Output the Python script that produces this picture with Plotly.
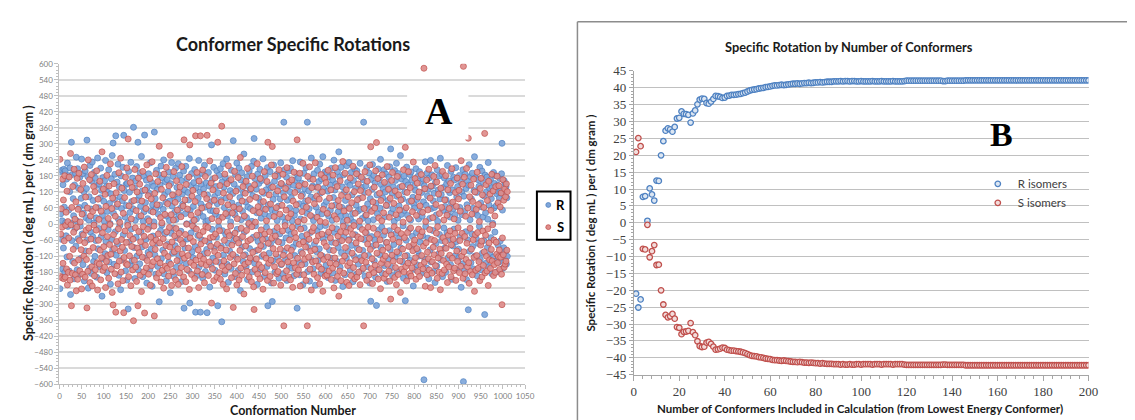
import plotly.graph_objects as go

W, H = 1135, 420

# ---------------- Panel A data: specific rotation of each conformer (R isomer) ----------------
# one row = 10 consecutive conformers (row i holds conformers 10*i+1 .. 10*i+10)
r_rotation = [
    -242, 196, 38, -57, 201, 12, -168, 147, -90, 205,
    63, -181, 199, 5, -44, 168, -123, 228, -9, 181,
    52, -176, 121, 210, -264, 3, 306, -62, 185, -140,
    95, 31, -205, 146, -18, 190, -83, 250, 12, -171,
    207, -55, 134, -190, 62, 175, -8, -129, 96, 243,
    -37, 188, -152, 41, 120, -213, 70, 199, -101, 23,
    133, 314, -60, 177, -240, 15, 102, -166, 219, -30,
    56, -185, 160, 232, -47, 88, -140, 4, 194, -121,
    171, -62, 23, -199, 145, 247, -93, 61, -17, 150,
    -160, 98, 209, -48, 126, -270, 33, 174, -131, 85,
    11, 162, -111, 238, -66, 140, -182, 47, 118, -21,
    203, -142, 77, 2, -225, 113, 169, -58, 256, -97,
    303, 40, -151, 92, 186, -29, 330, -117, 65, 157,
    -75, 224, 18, -192, 139, -6, 101, -246, 180, 58,
    -134, 87, 212, -40, 332, 125, -99, 26, -175, 148,
    69, -210, 152, 5, -318, 197, -68, 119, 43, -155,
    231, -19, 84, -137, 172, 57, 362, -88, 136, -204,
    14, 161, -50, 215, -120, 90, 306, -172, 28, 107,
    -149, 192, 66, -31, 253, -86, 124, -197, 10, 179,
    46, 333, -127, 80, -58, 164, -221, 137, 20, -106,
    188, -12, 115, -170, 229, 49, -94, 156, -233, 72,
    -45, 141, 8, 344, -115, 95, -188, 60, 201, -72,
    130, -159, 37, 184, -291, 71, 146, -24, 217, -130,
    -4, 173, -98, 55, 240, -187, 109, -36, 158, 81,
    -212, 29, 166, -76, 122, 195, -143, 13, 86, -257,
    151, -35, 230, 67, -109, 178, -15, -196, 104, 44,
    -81, 209, 17, -162, 137, -52, 93, 226, -118, 35,
    183, -139, 59, -27, 163, -215, 112, 74, -67, 198,
    -315, 128, -90, 39, 216, -148, 1, 170, -56, 118,
    90, -176, 245, -296, 52, 144, -33, 189, -104, 7,
    -126, 66, 155, -14, 204, -84, -330, 135, 19, -193,
    176, -43, 97, 238, -161, 42, 120, -330, 75, 148,
    -60, 189, -202, 28, 131, -111, 220, 63, -178, 9,
    154, -95, -332, 108, 13, 193, -69, 142, -236, 51,
    83, -153, 296, -20, 167, -128, 48, 212, -89, 103,
    -173, 37, 140, -49, 199, 76, -306, 117, -11, 182,
    25, -144, 207, 91, -83, -366, 158, -25, 226, -116,
    138, 61, -187, 174, -39, 97, 243, -151, 30, -72,
    -218, 160, 44, -102, 125, 8, -166, 201, 79, -41,
    114, 312, -64, 149, -197, 34, 185, -123, 56, 228,
    -20, 132, -174, 71, 209, -57, 99, -249, 165, 16,
    192, -86, 47, -140, 118, 262, -30, 151, -115, 82,
    -160, 24, 177, -208, 64, 143, -2, 199, -92, 127,
    58, -132, 216, 10, -179, 106, -50, 235, 320, -147,
    170, -7, -100, 131, 42, -226, 187, -65, 96, 152,
    -43, 205, -170, 81, 22, 163, -121, 58, 244, -84,
    115, -196, 37, 182, -55, 128, -12, -159, 211, -306,
    72, 147, -109, 29, 196, -75, 135, -221, 53, -290,
    -138, 92, 221, -28, 160, -180, 45, 112, -61, 186,
    13, -124, 178, 67, -203, 140, -37, 94, 229, -152,
    150, -70, 26, -186, 117, 381, -102, 203, 6, -133,
    -52, 175, -211, 89, 142, -24, 198, -157, 60, 121,
    209, -38, 98, -165, 12, 237, -86, 145, -194, 33,
    -118, 164, 51, -72, 188, -315, 128, -9, 172, -143,
    76, -190, 232, 19, -104, 153, -46, 110, -227, 67,
    190, -15, 132, -149, 86, 211, -63, 40, 381, -178,
    -88, 124, 57, -214, 169, -32, 101, 247, -136, 27,
    142, -167, 13, 188, -76, 95, -229, 138, 63, -104,
    -25, 201, -137, 44, 159, -93, 224, -10, 116, -185,
    169, 38, -120, 252, -55, 133, 70, -172, 195, -6,
    -155, 84, 191, -40, 123, -201, 30, 176, -97, 146,
    52, -128, 208, -68, 14, 165, -183, 99, 239, -31,
    127, -211, 72, 150, -18, -140, 196, 45, -88, 270,
    -66, 176, -162, 29, 212, -107, 62, 139, -234, 8,
    184, -49, 120, -190, 88, 31, -128, 218, -14, 156,
    -102, 61, 230, -58, 145, -172, 17, 193, -80, 109,
    39, -216, 163, 6, -121, 205, -40, 134, 71, -188,
    198, -91, 48, -150, 180, 96, -11, 227, -125, 55,
    -175, 137, 21, -99, 166, 381, -58, 118, -196, 32,
    143, -34, 211, -160, 75, 12, -118, 191, 54, -221,
    95, -289, 167, -47, 130, 223, -83, 16, 182, -138,
    -60, 154, -199, 78, -305, 109, 38, -170, 206, -23,
    171, -115, 59, 242, -88, 147, -12, -184, 98, 132,
    -42, 203, -156, 27, 120, 187, -70, 69, -215, 151,
    88, -130, 176, -25, 214, -96, 281, 41, -163, 117,
    -193, 57, 139, -77, 10, 200, -124, 163, -35, 227,
    104, -178, 23, 189, -109, 68, -52, 138, 256, -90,
    36, 168, -141, 94, -7, -203, 179, 51, 120, -287,
    159, -61, 213, -118, 32, 146, -196, 84, -20, 185,
    -136, 15, 195, -86, 164, -46, 100, -232, 74, 141,
    60, -170, 126, 207, -32, 92, -153, 178, -101, 19,
    -120, 196, -68, 45, 155, -185, 118, 29, -44, 168,
    83, -583, 143, -132, 233, -9, 70, -165, 190, 105,
    -53, 130, -205, 172, 21, -97, 238, -142, 58, 184,
    141, -24, 87, -178, 115, 62, -219, 156, -73, 34,
    -157, 203, 10, 127, -112, 180, -39, 94, 246, -134,
    110, -62, 185, -197, 51, 137, -15, 172, -90, 66,
    -181, 91, 150, -33, 219, -128, 42, 161, -58, 117,
    26, -152, 197, 78, -207, 128, -82, 57, 175, -19,
    165, 35, -118, 211, -66, 101, -172, 140, 14, -94,
    -126, 182, 62, -48, 158, -237, 120, 35, -149, 203,
    -590, 104, -175, 47, 186, -29, 133, -208, 72, 160,
    -60, -321, 145, 222, -102, 16, 178, -145, 94, -37,
    190, -84, 59, -168, 125, 252, -120, 40, 173, -55,
    118, -194, 32, 166, -73, 141, -9, 212, -133, 79,
    -171, 64, 198, -109, 26, 155, -62, 104, -339, 183,
    42, -147, 121, 176, -88, 18, 230, -160, 71, 134,
    -112, 166, -51, 95, -186, 138, 3, -124, 193, 60,
    152, -30, 181, -140, 68, 113, -179, 145, -79, 122,
    -143, 97, 170, -64, 124, -116, 188, 302, 52, -166,
    115, -89, 162, -131, 150, -102, 139, -150, 98, -121,
]
conformation_number = list(range(1, len(r_rotation) + 1))
s_rotation = [-v for v in r_rotation]          # enantiomer: mirror image

# ---------------- Panel B data: running weighted specific rotation ----------------
r_isomers = [
    -21.0, -25.1, -22.7, 7.7, 7.9, 0.6, 10.2, 8.4, 6.6, 12.5,
    12.4, 20.0, 24.2, 27.3, 28.0, 27.7, 27.0, 28.4, 30.9, 31.1,
    33.0, 32.3, 32.2, 32.0, 29.7, 32.4, 33.3, 35.1, 36.5, 36.8,
    36.7, 35.5, 35.3, 35.9, 36.7, 37.6, 37.5, 37.3, 37.0, 37.1,
    37.6, 37.7, 37.9, 37.9, 38.0, 38.1, 38.2, 38.4, 38.6, 38.9,
    39.2, 39.4, 39.5, 39.6, 39.8, 39.9, 40.0, 40.2, 40.3, 40.4,
    40.6, 40.7, 40.7, 40.8, 40.9, 40.8, 40.9, 41.0, 41.1, 41.2,
    41.2, 41.3, 41.2, 41.3, 41.4, 41.4, 41.5, 41.4, 41.5, 41.6,
    41.6, 41.7, 41.6, 41.7, 41.8, 41.8, 41.8, 41.9, 41.9, 41.9,
    42.0, 41.9, 42.0, 42.0, 41.9, 42.0, 42.0, 41.9, 41.9, 42.0,
    41.9, 41.9, 41.9, 41.9, 42.0, 41.9, 41.9, 41.9, 42.0, 41.9,
    41.9, 41.9, 41.9, 42.0, 41.9, 41.9, 41.9, 41.9, 42.0, 42.1,
    42.1, 42.1, 42.1, 42.1, 42.1, 42.1, 42.1, 42.1, 42.1, 42.1,
    42.1, 42.1, 42.1, 42.1, 42.1, 42.0, 42.0, 42.1, 42.1, 42.1,
    42.1, 42.1, 42.1, 42.1, 42.1, 42.2, 42.2, 42.2, 42.2, 42.2,
    42.2, 42.2, 42.2, 42.2, 42.2, 42.2, 42.2, 42.2, 42.2, 42.2,
    42.2, 42.2, 42.2, 42.2, 42.2, 42.2, 42.2, 42.2, 42.2, 42.2,
    42.2, 42.2, 42.2, 42.2, 42.2, 42.2, 42.2, 42.2, 42.2, 42.2,
    42.2, 42.2, 42.2, 42.2, 42.2, 42.2, 42.2, 42.2, 42.2, 42.2,
    42.2, 42.2, 42.2, 42.2, 42.2, 42.2, 42.2, 42.2, 42.2, 42.2,
]
n_conformers = list(range(1, len(r_isomers) + 1))
s_isomers = [-v for v in r_isomers]

a_xticks = list(range(0, 1051, 50))
a_yticks = list(range(-600, 601, 60))
b_xticks = list(range(0, 201, 20))
b_yticks = list(range(-45, 46, 5))
legend_a_labels = ["R", "S"]

BLUE_EDGE, BLUE_FILL = "#4f82c2", "#7fa6da"
RED_EDGE, RED_FILL = "#c0504d", "#df8d8b"

def px(x):
    return x / W

def py(y):
    return 1 - y / H

fig = go.Figure()

fig.add_trace(go.Scatter(
    x=conformation_number, y=r_rotation, mode="markers", name=legend_a_labels[0],
    xaxis="x", yaxis="y", showlegend=False,
    marker=dict(size=6, color=BLUE_FILL, opacity=0.92,
                line=dict(color=BLUE_EDGE, width=0.8)),
))
fig.add_trace(go.Scatter(
    x=conformation_number, y=s_rotation, mode="markers", name=legend_a_labels[1],
    xaxis="x", yaxis="y", showlegend=False,
    marker=dict(size=6, color=RED_FILL, opacity=0.92,
                line=dict(color=RED_EDGE, width=0.8)),
))
fig.add_trace(go.Scatter(
    x=n_conformers, y=r_isomers, mode="markers", name="R isomers",
    xaxis="x2", yaxis="y2", legend="legend2",
    marker=dict(size=5.5, color="#dce6f2", line=dict(color=BLUE_EDGE, width=1.3)),
))
fig.add_trace(go.Scatter(
    x=n_conformers, y=s_isomers, mode="markers", name="S isomers",
    xaxis="x2", yaxis="y2", legend="legend2",
    marker=dict(size=5.5, color="#f2dcdb", line=dict(color=RED_EDGE, width=1.3)),
))

tick_a = dict(family="Lato", size=8, color="#808080")
tick_b = dict(family="Liberation Serif", size=13, color="#404040")

fig.update_layout(
    width=W, height=H,
    margin=dict(l=0, r=0, t=0, b=0),
    paper_bgcolor="white", plot_bgcolor="white",
    xaxis=dict(domain=[px(49), px(520)], range=[0, 1050], tickvals=a_xticks,
               showgrid=False, zeroline=False, showline=True, linecolor="#bfbfbf",
               linewidth=1, ticks="outside", ticklen=4, tickcolor="#bfbfbf",
               minor=dict(dtick=10, ticks="outside", ticklen=2, tickcolor="#bfbfbf"),
               tickfont=tick_a, anchor="y"),
    yaxis=dict(domain=[py(383), py(50.5)], range=[-600, 600], tickvals=a_yticks,
               showgrid=True, gridcolor="#dadada", gridwidth=1.6, zeroline=False,
               showline=True, linecolor="#bfbfbf", linewidth=1, ticks="outside",
               ticklen=4, tickcolor="#bfbfbf",
               minor=dict(dtick=12, ticks="outside", ticklen=2, tickcolor="#bfbfbf"),
               tickfont=tick_a, anchor="x"),
    xaxis2=dict(domain=[px(630), px(1090)], range=[0, 200], tickvals=b_xticks,
                showgrid=False, zeroline=False, showline=True, linecolor="#a6a6a6",
                linewidth=1, ticks="outside", ticklen=5, tickcolor="#a6a6a6",
                minor=dict(dtick=4, ticks="outside", ticklen=3, tickcolor="#a6a6a6"),
                tickfont=tick_b, anchor="y2"),
    yaxis2=dict(domain=[py(373), py(58)], range=[-45, 45], tickvals=b_yticks,
                showgrid=True, gridcolor="#c0c0c0", gridwidth=1.4, zeroline=False,
                showline=True, linecolor="#a6a6a6", linewidth=1, ticks="outside",
                ticklen=4, tickcolor="#a6a6a6",
                minor=dict(dtick=1, ticks="outside", ticklen=2, tickcolor="#a6a6a6"),
                tickfont=tick_b, anchor="x2"),
    legend2=dict(x=px(978), y=py(160), xanchor="left", yanchor="top",
                 bgcolor="rgba(0,0,0,0)", borderwidth=0,
                 font=dict(family="Lato", size=11.5, color="#404040"), itemwidth=30),
    showlegend=True,
)

shapes = [
    # white label box A (over the markers)
    dict(type="rect", xref="paper", yref="paper", x0=px(400.7), x1=px(462.7),
         y0=py(129), y1=py(69), fillcolor="white", line=dict(width=0), layer="above"),
    # white label box B
    dict(type="rect", xref="paper", yref="paper", x0=px(970.7), x1=px(1032.7),
         y0=py(155), y1=py(79), fillcolor="white", line=dict(width=0), layer="between"),
    # white area behind legend B
    dict(type="rect", xref="paper", yref="paper", x0=px(995), x1=px(1096),
         y0=py(224), y1=py(168), fillcolor="white", line=dict(width=0), layer="between"),
    # legend box A
    dict(type="rect", xref="paper", yref="paper", x0=px(532), x1=px(566),
         y0=py(233), y1=py(183), fillcolor="white", line=dict(color="black", width=2)),
    # legend A markers
    dict(type="circle", xref="paper", yref="paper", x0=px(541), x1=px(546),
         y0=py(199.5), y1=py(194.5), fillcolor=BLUE_FILL, line=dict(color=BLUE_EDGE, width=0.8)),
    dict(type="circle", xref="paper", yref="paper", x0=px(541), x1=px(546),
         y0=py(222.5), y1=py(217.5), fillcolor=RED_FILL, line=dict(color=RED_EDGE, width=0.8)),
    # border of panel B
    dict(type="line", xref="paper", yref="paper", x0=px(573), x1=px(1135),
         y0=py(7), y1=py(7), line=dict(color="#8c8c8c", width=1.5)),
    dict(type="line", xref="paper", yref="paper", x0=px(573), x1=px(573),
         y0=py(7), y1=py(420), line=dict(color="#8c8c8c", width=1.5)),
]
fig.update_layout(shapes=shapes)

def note(text, x, y, size, family="Lato", color="#000000", angle=0):
    fig.add_annotation(text=text, x=px(x), y=py(y), xref="paper", yref="paper",
                       showarrow=False, textangle=angle, xanchor="center",
                       yanchor="middle", font=dict(family=family, size=size, color=color))

note("<b>Conformer Specific Rotations</b>", 285, 30, 18, color="#1a1a1a")
note("<b>Conformation Number</b>", 285, 410, 12.5, color="#1a1a1a")
note("<b>Specific Rotation ( deg mL ) per ( dm gram )</b>", 17, 216, 12.5, color="#1a1a1a", angle=-90)
note("<b>Specific Rotation by Number of Conformers</b>", 848, 33, 12.8, color="#1a1a1a")
note("<b>Number of Conformers Included in Calculation (from Lowest Energy Conformer)</b>",
     859, 408, 11.5, color="#1a1a1a")
note("<b>Specific Rotation ( deg mL ) per ( dm gram )</b>", 586, 216, 11.5, color="#1a1a1a", angle=-90)
note("<b>%s</b>" % legend_a_labels[0], 556, 197, 13)
note("<b>%s</b>" % legend_a_labels[1], 556, 220, 13)
note("<b>A</b>", 433, 100, 38, family="Liberation Serif")
note("<b>B</b>", 1002, 124, 34, family="Liberation Serif")

fig.write_html("out.html")
